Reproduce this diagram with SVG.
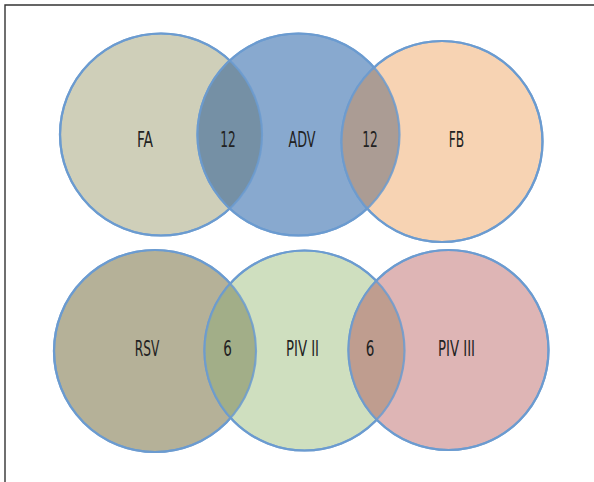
<svg xmlns="http://www.w3.org/2000/svg" width="594" height="482" viewBox="0 0 594 482">
  <defs>
    <style>
      .c { stroke: #6b9bd0; stroke-width: 2.2; }
      .o { fill: none; stroke: #6b9bd0; stroke-width: 2.2; stroke-opacity: 0.85; }
      text { font-family: "Liberation Sans Narrow", "DejaVu Sans Condensed", "Liberation Sans", sans-serif; font-size: 21px; fill: #222222; text-anchor: middle; }
    </style>
    <clipPath id="clipFA"><circle cx="161" cy="134.5" r="101"/></clipPath>
    <clipPath id="clipADV"><circle cx="298.5" cy="134.5" r="101"/></clipPath>
    <clipPath id="clipRSV"><circle cx="155" cy="351" r="101"/></clipPath>
    <clipPath id="clipPIV2"><circle cx="304.5" cy="350.5" r="100"/></clipPath>
  </defs>
  <rect x="0" y="0" width="594" height="482" fill="#ffffff"/>
  <path d="M5 482 V5 H594" fill="none" stroke="#333333" stroke-width="1.4"/>

  <g id="node-FA">
    <circle class="c" cx="161" cy="134.5" r="101" fill="#cfcfb9"/>
    <text x="145" y="146.5" textLength="16" lengthAdjust="spacingAndGlyphs">FA</text>
  </g>
  <g id="node-ADV">
    <circle class="c" cx="298.5" cy="134.5" r="101" fill="#88a9cf"/>
    <text x="302" y="146.5" textLength="27" lengthAdjust="spacingAndGlyphs">ADV</text>
  </g>
  <g id="node-FB">
    <circle class="c" cx="442" cy="141.5" r="100.5" fill="#f7d3b3"/>
    <text x="456.5" y="146.5" textLength="15.5" lengthAdjust="spacingAndGlyphs">FB</text>
  </g>
  <g id="node-RSV">
    <circle class="c" cx="155" cy="351" r="101" fill="#b5b198"/>
    <text x="147" y="355.5" textLength="24.5" lengthAdjust="spacingAndGlyphs">RSV</text>
  </g>
  <g id="node-PIV2">
    <circle class="c" cx="304.5" cy="350.5" r="100" fill="#cfdfbf"/>
    <text x="302.5" y="355.5" textLength="33" lengthAdjust="spacingAndGlyphs">PIV II</text>
  </g>
  <g id="node-PIV3">
    <circle class="c" cx="448.5" cy="350" r="100" fill="#deb5b5"/>
    <text x="456.5" y="355.5" textLength="37" lengthAdjust="spacingAndGlyphs">PIV III</text>
  </g>

  <g id="overlaps">
    <circle cx="298.5" cy="134.5" r="101" fill="#7590a5" clip-path="url(#clipFA)"/>
    <circle cx="442" cy="141.5" r="100.5" fill="#ab9c94" clip-path="url(#clipADV)"/>
    <circle cx="304.5" cy="350.5" r="100" fill="#a2ae88" clip-path="url(#clipRSV)"/>
    <circle cx="448.5" cy="350" r="100" fill="#bf9d8f" clip-path="url(#clipPIV2)"/>
    <text x="228" y="146.5" textLength="15.5" lengthAdjust="spacingAndGlyphs">12</text>
    <text x="370" y="146.5" textLength="15.5" lengthAdjust="spacingAndGlyphs">12</text>
    <text x="227.5" y="355.5" textLength="8.6" lengthAdjust="spacingAndGlyphs">6</text>
    <text x="370" y="355.5" textLength="8.6" lengthAdjust="spacingAndGlyphs">6</text>
  </g>

  <g id="outlines">
    <circle class="o" cx="161" cy="134.5" r="101"/>
    <circle class="o" cx="298.5" cy="134.5" r="101"/>
    <circle class="o" cx="442" cy="141.5" r="100.5"/>
    <circle class="o" cx="155" cy="351" r="101"/>
    <circle class="o" cx="304.5" cy="350.5" r="100"/>
    <circle class="o" cx="448.5" cy="350" r="100"/>
  </g>
</svg>
